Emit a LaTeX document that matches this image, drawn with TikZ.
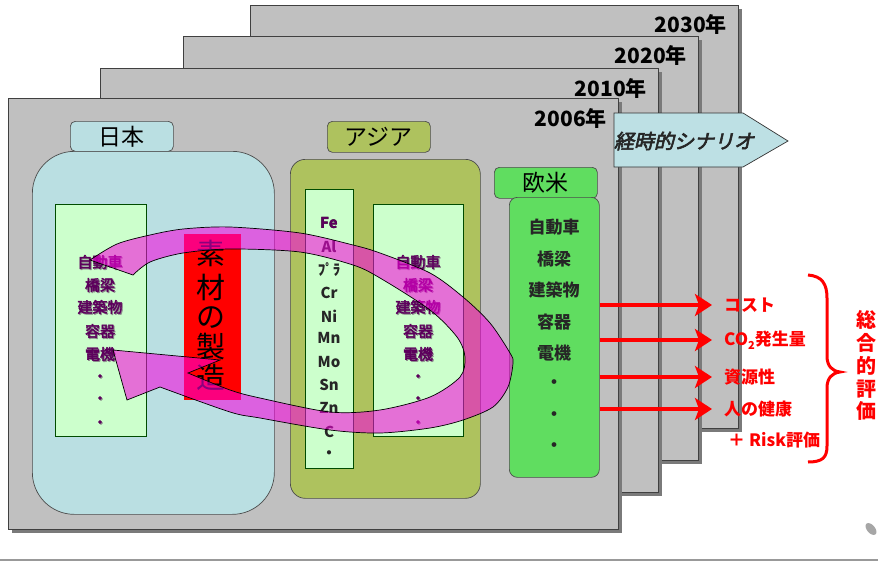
\documentclass[tikz,border=0pt]{standalone}
\usepackage{fontspec}
\setmainfont{Noto Sans CJK JP}
\newfontfamily\jpit{Noto Sans CJK JP}[FakeSlant=0.22,FakeBold=3]
\newfontfamily\jpheavy{Noto Sans CJK JP}[FakeBold=3]
\usetikzlibrary{arrows.meta}
\definecolor{panelgray}{HTML}{C0C0C0}
\definecolor{shadowgray}{HTML}{7A7A7A}
\definecolor{jpblue}{HTML}{BADFE2}
\definecolor{asiaolive}{HTML}{AEC25E}
\definecolor{lgreen}{HTML}{CCFFCC}
\definecolor{eugreen}{HTML}{60DD60}
\definecolor{arrowblue}{HTML}{BDE0E4}
\definecolor{bandmag}{HTML}{F800DF}
\definecolor{listpurple}{HTML}{5C005C}
\definecolor{darktext}{HTML}{262626}
\newcommand{\myfs}[1]{\fontsize{#1}{#1}\selectfont}
\begin{document}
\begin{tikzpicture}[x=1pt,y=-1pt,
  panel/.style={fill=panelgray,draw=black!75,line width=0.8pt},
  pshadow/.style={fill=shadowgray},
  year/.style={font=\myfs{21}\bfseries,text=black,inner sep=0pt,anchor=east},
  box/.style={inner sep=0pt,anchor=north west,line width=0.7pt},
  region/.style={inner sep=0pt,font=\myfs{23}},
  jplist/.style={inner sep=0pt,font=\jpheavy\myfs{15},text=listpurple},
  jpshadow/.style={inner sep=0pt,font=\jpheavy\myfs{15},text=black!45},
  elem/.style={inner sep=0pt,font=\myfs{15}\bfseries,text=darktext},
  eulist/.style={inner sep=0pt,font=\myfs{17}\bfseries,text=darktext},
  redlbl/.style={inner sep=0pt,anchor=west,font=\myfs{17}\bfseries,text=red},
  redarr/.style={draw=red,line width=4pt,-{Stealth[length=17pt,width=22pt,inset=4pt]}},
  bigchar/.style={inner sep=0pt,font=\myfs{29},text=black},
  evalchar/.style={inner sep=0pt,font=\myfs{20}\bfseries,text=red},
  band/.style={fill=bandmag,fill opacity=0.56,draw=black,draw opacity=1,line width=0.7pt}
]
\useasboundingbox (0,0) rectangle (878,562);
\fill[white] (0,0) rectangle (878,562);

% stacked panels (back to front)
\fill[pshadow] (254,9) rectangle (742,432);
\draw[panel] (250,5) rectangle (738,428);
\node[year] (y2030) at (727,24) {2030年};

\fill[pshadow] (187,40) rectangle (702,464);
\draw[panel] (183,36) rectangle (698,460);
\node[year] (y2020) at (687,55) {2020年};

\fill[pshadow] (104,72) rectangle (662,496);
\draw[panel] (100,68) rectangle (658,492);
\node[year] (y2010) at (647,88) {2010年};

\fill[pshadow] (12,102) rectangle (622,533);
\draw[panel] (8,98) rectangle (618,529);
\node[year] (y2006) at (607,118) {2006年};

% time scenario arrow
\draw[fill=arrowblue,draw=black!80,line width=0.7pt] (614,113) -- (743,113) -- (788,141) -- (743,167) -- (614,167) -- cycle;
\node[inner sep=0pt,font=\jpit\myfs{20},text=darktext] (scen) at (684,141) {経時的シナリオ};

% Japan
\node[box,fill=jpblue,draw=black!70,rounded corners=42pt,minimum width=242pt,minimum height=363pt] (jpbig) at (32,151) {};
\node[box,fill=jpblue,draw=black!70,rounded corners=5pt,minimum width=103pt,minimum height=30pt] (jplbl) at (70,121) {};
\node[region] (jptxt) at (jplbl.center) {日本};
\node[box,fill=lgreen,draw=black!70!green,minimum width=91pt,minimum height=232pt] (jpin) at (55,204) {};

% Asia
\node[box,fill=asiaolive,draw=black!70,rounded corners=15pt,minimum width=190pt,minimum height=339pt] (asbig) at (290,159) {};
\node[box,fill=asiaolive,draw=black!70,rounded corners=5pt,minimum width=103pt,minimum height=31pt] (aslbl) at (327,121) {};
\node[region] (astxt) at (aslbl.center) {アジア};
\node[box,fill=lgreen,draw=black!70!green,minimum width=48pt,minimum height=279pt] (aselem) at (305,189) {};
\node[box,fill=lgreen,draw=black!70!green,minimum width=90pt,minimum height=232pt] (asin) at (373,204) {};

% Europe/America
\node[box,fill=eugreen,draw=black!70,rounded corners=5pt,minimum width=103pt,minimum height=31pt] (eulbl) at (494,167) {};
\node[region] (eutxt) at (eulbl.center) {欧米};
\node[box,fill=eugreen,draw=black!70,rounded corners=8pt,minimum width=90pt,minimum height=280pt] (eubig) at (509,197) {};

% lists
\foreach \t/\yy [count=\i] in {自動車/262,橋梁/285,建築物/307,容器/331,電機/354,・/378,・/400,・/424}{
  \node[jpshadow] at (101,\yy+1) {\t};
  \node[jplist] (jpitem\i) at (100,\yy) {\t};
  \node[jpshadow] at (419,\yy+1) {\t};
  \node[jplist] (asitem\i) at (418,\yy) {\t};
}
\foreach \t/\yy [count=\i] in {Fe/223,Al/247,ﾌﾟﾗ/270,Cr/293,Ni/316,Mn/338,Mo/362,Sn/385,Zn/408,C/432,・/455}{
  \node[elem] (el\i) at (329,\yy) {\t};
}
\node[elem,text=listpurple] at (el1) {Fe};
\foreach \t/\yy [count=\i] in {自動車/227,橋梁/259,建築物/290,容器/322,電機/353,・/384,・/416,・/447}{
  \node[eulist] (euitem\i) at (554,\yy) {\t};
}

% material production
\node[box,fill=red,minimum width=57pt,minimum height=166pt] (mat) at (184,234) {};
\foreach \c/\yy [count=\i] in {素/253,材/287,の/318,製/347,造/377}{
  \node[bigchar] (mc\i) at (211,\yy) {\c};
}

% magenta cyclic arrow
\path[band] (90,260) -- plot[smooth] coordinates {(90,260) (117,244) (150,235) (183,229) (230,227) (300,233) (353,245) (380,253) (430,273) (463,297) (490,323) (510,353) (513,363) (508,387) (493,407) (463,420) (430,428) (380,433) (330,430) (260,418) (230,412) (160,387)}
  -- (127,400) -- (113,350) -- (220,360) -- (188,373)
  -- plot[smooth] coordinates {(188,373) (230,390) (260,398) (330,412) (380,410) (430,397) (460,377) (465,357) (457,337) (430,310) (380,278) (353,265) (300,252) (230,249) (183,253) (150,262) (133,275)}
  -- cycle;

% evaluation items
\node[redlbl] (cost) at (724,305) {コスト};
\node[redlbl] (co2) at (724,340) {CO\raisebox{-4pt}{\myfs{11}2}発生量};
\node[redlbl] (res) at (724,377) {資源性};
\node[redlbl] (health) at (724,409) {人の健康};
\node[redlbl] (risk) at (728,440) {＋ Risk評価};
\foreach \n in {cost,co2,res,health}{
  \draw[redarr] (eubig.east |- \n.west) -- ([xshift=-12pt]\n.west);
}

% brace
\draw[red,line width=3pt] (808,275) .. controls (822,276) and (827,284) .. (827,298) -- (827,356) .. controls (827,366) and (832,371) .. (840,372) .. controls (832,373) and (827,378) .. (827,388) -- (827,446) .. controls (827,458) and (822,462) .. (808,462);
\foreach \c/\yy [count=\i] in {総/320,合/343,的/366,評/389,価/411}{
  \node[evalchar] (ev\i) at (866,\yy) {\c};
}

% small mark and bottom rule
\fill[gray!70, rotate around={-50:(871,529)}] (871,529) ellipse (7pt and 4pt);
\draw[gray!80,line width=2pt] (0,560) -- (878,560);
\end{tikzpicture}
\end{document}
